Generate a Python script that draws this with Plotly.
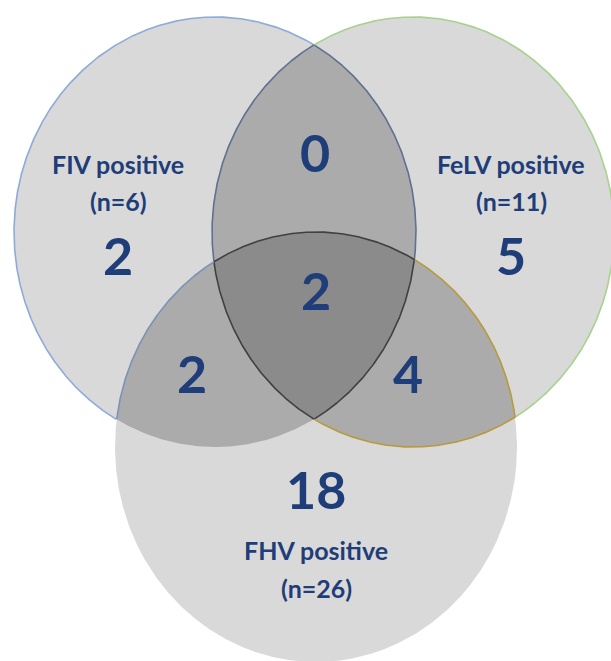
import numpy as np
import plotly.graph_objects as go

# ---- data ----
set_names = ["FIV positive", "FeLV positive", "FHV positive"]
set_totals = [6, 11, 26]
only_counts = [2, 5, 18]              # FIV only, FeLV only, FHV only
pair_names = ["FIV & FeLV", "FIV & FHV", "FeLV & FHV"]
pair_counts = [0, 2, 4]
triple_count = 2

# ---- layout geometry (pixel space) ----
W, H = 611, 661
CENTERS = [(215, 232), (413, 232), (316, 447)]
RX, RY = 201, 215
N = 3000

SINGLE_FILL = "#d9d9d9"
PAIR_FILL = "#ababab"
TRIPLE_FILL = "#8b8b8b"
TEXT_COLOR = "#1f3d78"
FONT = "Lato"


def ellipse(i, n=N):
    cx, cy = CENTERS[i]
    t = np.linspace(0, 2 * np.pi, n, endpoint=False)
    return cx + RX * np.cos(t), cy + RY * np.sin(t)


def inside(x, y, i, tol=1e-9):
    cx, cy = CENTERS[i]
    return ((x - cx) / RX) ** 2 + ((y - cy) / RY) ** 2 <= 1 + tol


def intersection(idxs):
    xs, ys = [], []
    for i in idxs:
        x, y = ellipse(i)
        m = np.ones_like(x, dtype=bool)
        for j in idxs:
            if j != i:
                m &= inside(x, y, j)
        xs.append(x[m]); ys.append(y[m])
    x = np.concatenate(xs); y = np.concatenate(ys)
    mx, my = x.mean(), y.mean()
    order = np.argsort(np.arctan2(y - my, x - mx))
    x, y = x[order], y[order]
    return np.append(x, x[0]), np.append(y, y[0])


fig = go.Figure()


def add_fill(x, y, color):
    fig.add_trace(go.Scatter(x=x, y=y, mode="lines", fill="toself",
                             fillcolor=color, line=dict(width=0),
                             hoverinfo="skip", showlegend=False))


for i in range(3):
    x, y = ellipse(i)
    add_fill(np.append(x, x[0]), np.append(y, y[0]), SINGLE_FILL)
for pair in [(0, 1), (0, 2), (1, 2)]:
    x, y = intersection(pair)
    add_fill(x, y, PAIR_FILL)
x, y = intersection((0, 1, 2))
add_fill(x, y, TRIPLE_FILL)

# ---- outlines, styled by which other circles each arc lies in ----
OUTER = ["#8eaadb", "#a9d18e", None]
DARK = "#404040"
BLUE_DARK = "#5f7090"
GOLD = "#b89a3a"
STYLE = {
    0: {(): OUTER[0], (1,): BLUE_DARK, (2,): None, (1, 2): DARK},
    1: {(): OUTER[1], (0,): BLUE_DARK, (2,): GOLD, (0, 2): DARK},
    2: {(): None, (0,): "#7c92b8", (1,): GOLD, (0, 1): DARK},
}

for i in range(3):
    x, y = ellipse(i)
    others = [j for j in range(3) if j != i]
    keys = []
    for k in range(len(x)):
        keys.append(tuple(j for j in others if inside(x[k], y[k], j)))
    changes = [k for k in range(len(keys)) if keys[k] != keys[k - 1]]
    start = changes[0] if changes else 0
    idx = [(start + k) % len(keys) for k in range(len(keys))]
    runs = []
    cur = [idx[0]]
    for k in idx[1:]:
        if keys[k] == keys[cur[-1]]:
            cur.append(k)
        else:
            runs.append(cur + [k]); cur = [k]
    runs.append(cur + [idx[0]])
    for run in runs:
        color = STYLE[i][keys[run[0]]]
        if color is None:
            continue
        fig.add_trace(go.Scatter(x=x[run], y=y[run], mode="lines",
                                 line=dict(color=color, width=1.6),
                                 hoverinfo="skip", showlegend=False))

# ---- labels ----
LABEL_SIZE = 25
NUM_SIZE = 52


def note(x, y, text, size):
    fig.add_annotation(x=x, y=y, text=text, showarrow=False,
                       xanchor="center", yanchor="middle",
                       font=dict(family=FONT, size=size, color=TEXT_COLOR))

label_pos = [(118, 164, 201, 255), (511, 164, 201, 255)]
for i in range(2):
    lx, ly, ny, cy = label_pos[i]
    note(lx, ly, f"<b>{set_names[i]}</b>", LABEL_SIZE)
    note(lx, ny, f"<b>(n={set_totals[i]})</b>", LABEL_SIZE)
    note(lx, cy, f"<b>{only_counts[i]}</b>", NUM_SIZE)

note(316, 489, f"<b>{only_counts[2]}</b>", NUM_SIZE)
note(316, 550, f"<b>{set_names[2]}</b>", LABEL_SIZE)
note(316, 588, f"<b>(n={set_totals[2]})</b>", LABEL_SIZE)

pair_pos = [(315, 152), (192, 373), (408, 373)]
for (px, py), c in zip(pair_pos, pair_counts):
    note(px, py, f"<b>{c}</b>", NUM_SIZE)
note(316, 290, f"<b>{triple_count}</b>", NUM_SIZE)

fig.update_layout(
    width=W, height=H, margin=dict(l=0, r=0, t=0, b=0),
    paper_bgcolor="white", plot_bgcolor="white", showlegend=False,
    xaxis=dict(range=[0, W], visible=False, fixedrange=True),
    yaxis=dict(range=[H, 0], visible=False, fixedrange=True),
)

fig.write_html("out.html",
               config={"displayModeBar": False, "staticPlot": True},
               post_script="document.body.style.margin='0';"
                           "document.body.style.overflow='hidden';")
